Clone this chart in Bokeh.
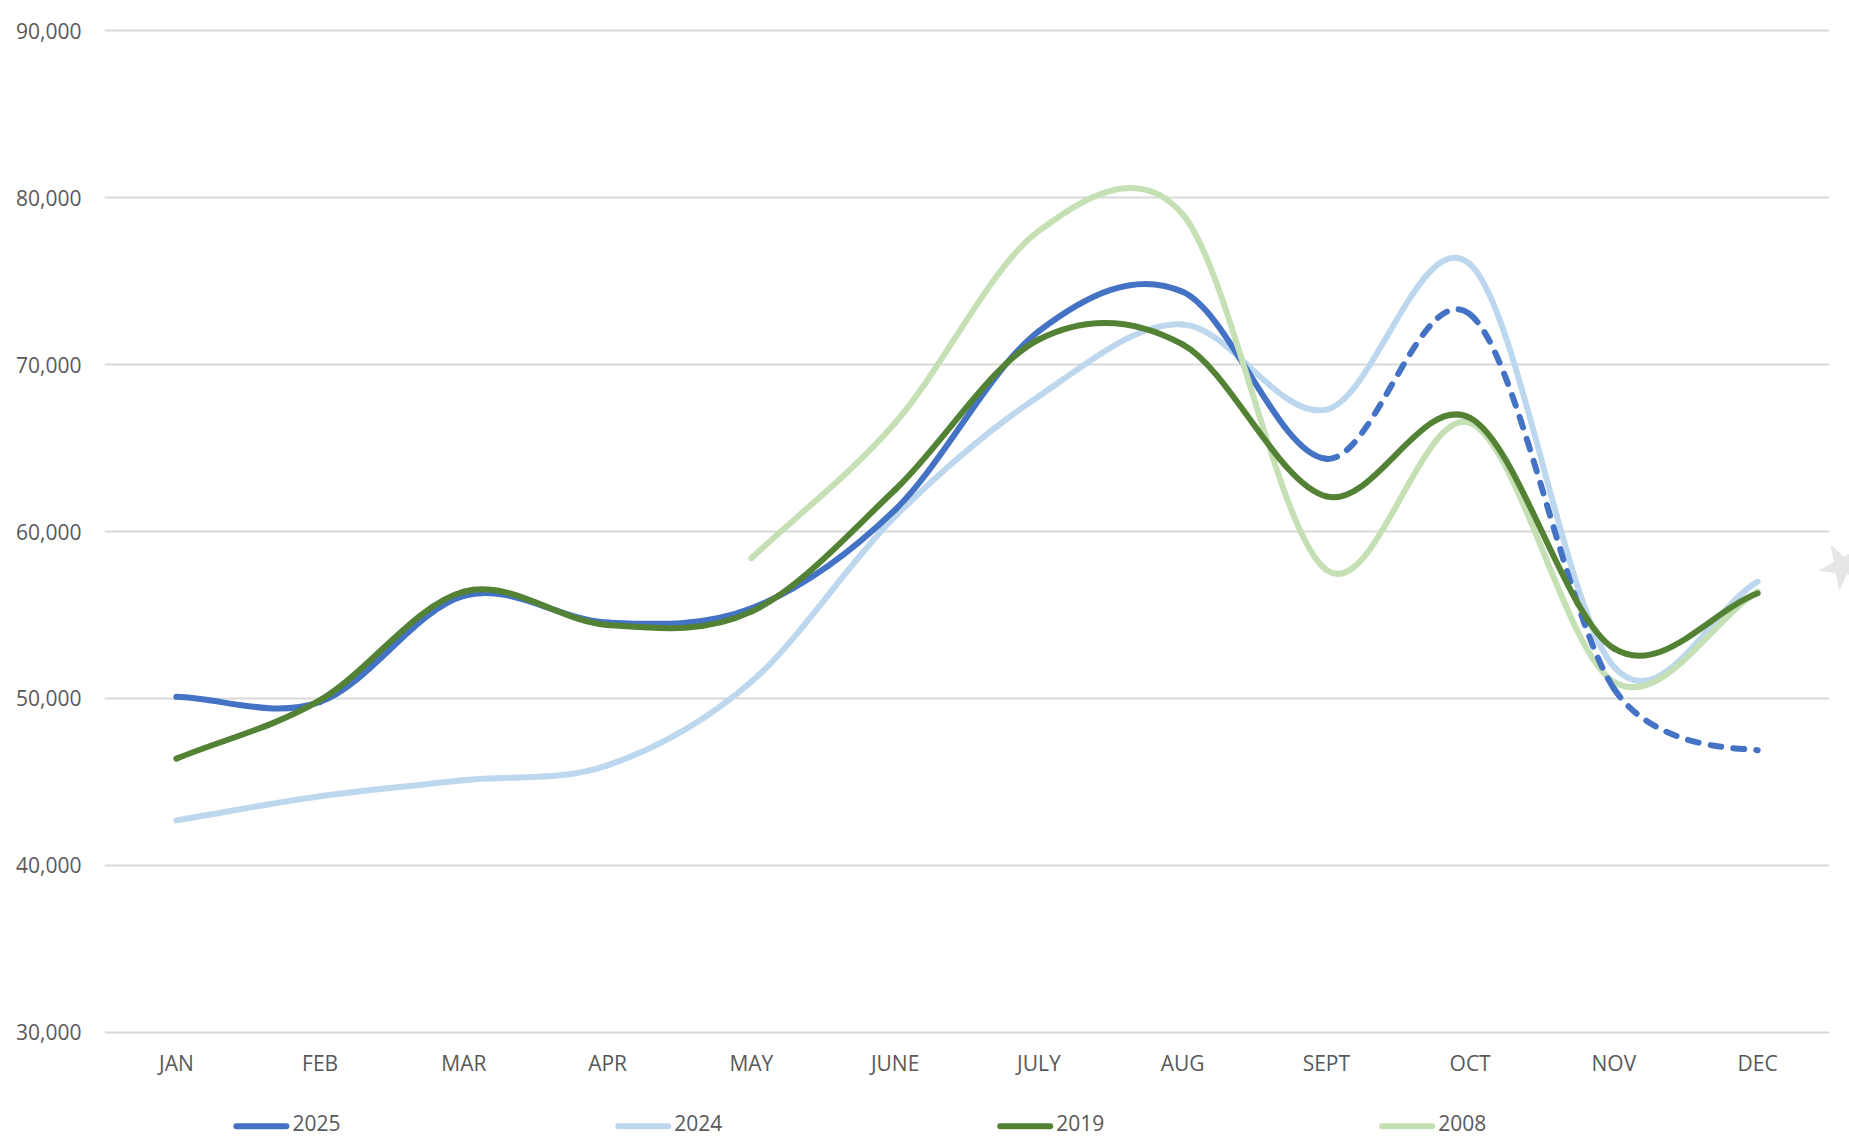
from math import hypot
from bokeh.plotting import figure
from bokeh.core.properties import value
from bokeh.models import FixedTicker, Range1d, NumeralTickFormatter
from bokeh.embed import file_html
from bokeh.resources import INLINE

months = ["JAN", "FEB", "MAR", "APR", "MAY", "JUNE", "JULY", "AUG", "SEPT", "OCT", "NOV", "DEC"]
values_2025 = [50100, 49800, 56150, 54550, 55400, 61300, 72000, 74350, 64350, 73000, 50600, 46900]
values_2024 = [42700, 44150, 45100, 46000, 51000, 60900, 68100, 72400, 67300, 76000, 51900, 57000]
values_2019 = [46400, 49900, 56400, 54400, 55200, 62500, 71500, 71200, 62100, 66800, 53000, 56300]
values_2008 = [None, None, None, None, 58400, 66500, 78000, 79000, 57700, 66500, 51000, 56400]
y_ticks = [30000, 40000, 50000, 60000, 70000, 80000, 90000]
legend_labels = ["2025", "2024", "2019", "2008"]

BLUE, LIGHT_BLUE, GREEN, LIGHT_GREEN = "#4472C4", "#BDD7EE", "#548235", "#C5E0B4"
legend_colors = [BLUE, LIGHT_BLUE, GREEN, LIGHT_GREEN]
FONT = "Open Sans"
TEXT = "#595959"
LW = 6
FONT_SIZE = "21px"
PX_X, PX_Y = 143.75, 0.016705  # aspect of the plot area, used by the smoothing


def segments(values, first=0, last=None):
    """Spreadsheet-style smoothing: one Bezier per month-to-month step."""
    pts = [(i, v) for i, v in enumerate(values) if v is not None]
    out = dict(x0=[], y0=[], x1=[], y1=[], cx0=[], cy0=[], cx1=[], cy1=[])

    def dist(a, b):
        return hypot((a[0] - b[0]) * PX_X, (a[1] - b[1]) * PX_Y)

    for k in range(len(pts) - 1):
        i = pts[k][0]
        if i < first or (last is not None and i >= last):
            continue
        p0, p1, p2, p3 = pts[max(k - 1, 0)], pts[k], pts[k + 1], pts[min(k + 2, len(pts) - 1)]
        d02, d12, d13 = dist(p0, p2), dist(p1, p2), dist(p1, p3)
        if d02 / 6 < d12 / 2 and d13 / 6 < d12 / 2:
            f = 1 / 3 if p0 == p1 else 1 / 6
            g = 1 / 3 if p2 == p3 else 1 / 6
        elif d02 / 6 >= d12 / 2 and d13 / 6 >= d12 / 2:
            f = d12 / 2 / d02
            g = d12 / 2 / d13
        elif d02 / 6 >= d12 / 2:
            f = d12 / 2 / d02
            g = d12 / 2 / d02 * (d13 / d02)
        else:
            f = d12 / 2 / d13 * (d02 / d13)
            g = d12 / 2 / d13
        out["x0"].append(p1[0]); out["y0"].append(p1[1])
        out["x1"].append(p2[0]); out["y1"].append(p2[1])
        out["cx0"].append(p1[0] + (p2[0] - p0[0]) * f); out["cy0"].append(p1[1] + (p2[1] - p0[1]) * f)
        out["cx1"].append(p2[0] - (p3[0] - p1[0]) * g); out["cy1"].append(p2[1] - (p3[1] - p1[1]) * g)
    return out


p = figure(width=1849, height=1138, output_backend="svg", toolbar_location=None,
           x_range=Range1d(-0.5, 11.5), y_range=Range1d(29700, 90300),
           min_border_left=104, min_border_right=20, min_border_top=25, min_border_bottom=101,
           background_fill_color="white", border_fill_color="white", outline_line_color=None)

p.xgrid.visible = False
p.ygrid.grid_line_color = "#D9D9D9"
p.ygrid.grid_line_width = 2
p.ygrid.ticker = FixedTicker(ticks=y_ticks)

p.yaxis.ticker = FixedTicker(ticks=y_ticks)
p.yaxis.formatter = NumeralTickFormatter(format="0,0")
p.xaxis.ticker = FixedTicker(ticks=list(range(12)))
p.xaxis.major_label_overrides = {i: m for i, m in enumerate(months)}
for ax in (p.xaxis[0], p.yaxis[0]):
    ax.axis_line_color = None
    ax.major_tick_line_color = None
    ax.minor_tick_line_color = None
    ax.major_label_text_font = FONT
    ax.major_label_text_font_size = FONT_SIZE
    ax.major_label_text_color = TEXT
p.xaxis.major_label_standoff = 5
p.yaxis.major_label_standoff = 17


def curve(data, color, **kw):
    return p.bezier(line_color=color, line_width=LW, line_cap="round", **data, **kw)


curve(segments(values_2024), LIGHT_BLUE)
curve(segments(values_2025, last=8), BLUE)
curve(segments(values_2008), LIGHT_GREEN)
curve(segments(values_2025, first=8), BLUE, line_dash="11 12")
curve(segments(values_2019), GREEN)

# Legend row below the axis: keys and labels share one row under the month labels.
KEY_Y = 24380                  # data level of the keys
KEY_TEXT_Y = 24560             # data level of the labels
KEY_LEFT, KEY_PITCH, KEY_W = 0.417, 2.657, 0.348   # in month widths
for i, (label, color) in enumerate(zip(legend_labels, legend_colors)):
    left = KEY_LEFT + i * KEY_PITCH
    p.line([left, left + KEY_W], [KEY_Y, KEY_Y], line_color=color, line_width=LW,
           line_cap="round", level="overlay")
    p.text([left + KEY_W + 0.042], [KEY_TEXT_Y], text=[label], text_font=value(FONT),
           text_font_size=value(FONT_SIZE), text_color=TEXT, text_baseline="middle",
           level="overlay")

# Faint grey star smudge at the right edge of the picture.
p.scatter([11.59], [57930], marker="star", size=50, fill_color="#E6E6E6", line_color=None,
          angle=0.5, level="overlay")

open("out.html", "w").write(file_html(p, INLINE))
